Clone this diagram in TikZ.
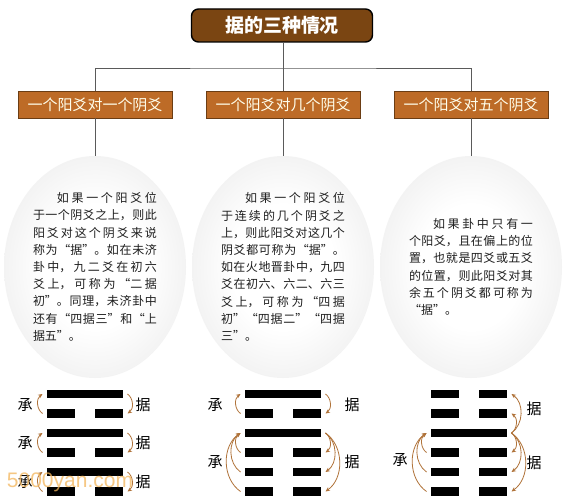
\documentclass[tikz,border=0pt]{standalone}
\usepackage{fontspec}
\newfontfamily\cjk{Noto Sans CJK SC}
\setsansfont{Liberation Sans}
\usetikzlibrary{shapes.geometric,arrows.meta}
\XeTeXlinebreaklocale "zh"
\XeTeXlinebreakskip=0pt plus 4pt minus 0.3pt
\definecolor{titlebrown}{HTML}{7A4512}
\definecolor{headbrown}{HTML}{BD6B27}
\definecolor{headedge}{HTML}{6B3D14}
\definecolor{arrowc}{HTML}{B0733A}
\definecolor{connc}{HTML}{5A5A5A}
\definecolor{wmc}{HTML}{F3B55A}
\pgfdeclareradialshading{eggshade}{\pgfpoint{0bp}{0bp}}{color(0bp)=(white); color(14bp)=(white); color(40bp)=(black!11); color(50bp)=(black!15)}
\tikzset{
 titlebox/.style={draw=black, line width=1.4pt, fill=titlebrown, rounded corners=7pt, minimum width=181pt, minimum height=33pt, text=white, font=\cjk\bfseries\fontsize{19pt}{21pt}\selectfont, inner sep=0pt},
 headbox/.style={draw=headedge, line width=0.8pt, fill=headbrown, minimum width=154pt, minimum height=27pt, inner sep=0pt, text=white!92!yellow, font=\cjk\fontsize{15pt}{17pt}\selectfont},
 egg/.style={ellipse, minimum width=182pt, minimum height=222pt, inner sep=0pt, shading=eggshade, text width=124pt, align=justify, text=black!88, font=\cjk\fontsize{12pt}{17.2pt}\selectfont},
 connline/.style={draw=connc, line width=0.9pt},
 yao/.style={fill=black},
 arr/.style={draw=arrowc, line width=0.8pt, -{Stealth[length=4.5pt,width=4pt]}},
 lbl/.style={font=\cjk\fontsize{15pt}{17pt}\selectfont, text=black, inner sep=0pt},
}
\newcommand\yaoYang[2]{\fill[yao] (#1,#2-4.25) rectangle ++(76,8.5);}
\newcommand\yaoYin[2]{\fill[yao] (#1,#2-4.25) rectangle ++(28,8.5); \fill[yao] (#1+48,#2-4.25) rectangle ++(28,8.5);}
\begin{document}
\begin{tikzpicture}[x=1pt,y=-1pt]
\useasboundingbox[fill=white] (0,0) rectangle (566,503);
% title and headers
\node[titlebox] (title) at (282,25.5) {据的三种情况};
\node[headbox] (hd1) at (95,104.5) {一个阳爻对一个阴爻};
\node[headbox] (hd2) at (283,104.5) {一个阳爻对几个阴爻};
\node[headbox] (hd3) at (471,104.5) {一个阳爻对五个阴爻};
\coordinate (bus) at (283,68);
% ellipses
\node[egg] (e1) at (95,267) {\hspace*{2em}如果一个阳爻位\linebreak 于一个阴爻之上，则此\linebreak 阳爻对这个阴爻来说\linebreak 称为“据”。如在未济\linebreak 卦中，九二爻在初六\linebreak 爻上，可称为“二据\linebreak 初”。同理，未济卦中\linebreak 还有“四据三”和“上\linebreak 据五”。};
\node[egg] (e2) at (283,267) {\hspace*{2em}如果一个阳爻位\linebreak 于连续的几个阴爻之\linebreak 上，则此阳爻对这几个\linebreak 阴爻都可称为“据”。\linebreak 如在火地晋卦中，九四\linebreak 爻在初六、六二、六三\linebreak 爻上，可称为“四据\linebreak 初”“四据二”“四据\linebreak 三”。};
\node[egg] (e3) at (471,267) {\hspace*{2em}如果卦中只有一\linebreak 个阳爻，且在偏上的位\linebreak 置，也就是四爻或五爻\linebreak 的位置，则此阳爻对其\linebreak 余五个阴爻都可称为\linebreak “据”。};
% connectors
\draw[connline] (title.south -| bus) -- (hd2.north);
\draw[connline] (hd1.north) |- (bus) -| (hd3.north);
\draw[connline] (hd1.south) -- (e1.north);
\draw[connline] (hd2.south) -- (e2.north);
\draw[connline] (hd3.south) -- (e3.north);
% line-end coordinates
\foreach \h/\x in {1/47,2/245,3/431}{
  \foreach \i in {1,...,6}{
    \coordinate (h\h L\i) at (\x-4.5,394+19.5*\i-19.5);
    \coordinate (h\h R\i) at (\x+80.5,394+19.5*\i-19.5);
  }
}
% hexagram 1
\yaoYang{47}{394}\yaoYin{47}{413.5}\yaoYang{47}{433}\yaoYin{47}{452.5}\yaoYang{47}{472}\yaoYin{47}{491.5}
% hexagram 2
\yaoYang{245}{394}\yaoYin{245}{413.5}\yaoYang{245}{433}\yaoYin{245}{452.5}\yaoYin{245}{472}\yaoYin{245}{491.5}
% hexagram 3
\yaoYin{431}{394}\yaoYin{431}{413.5}\yaoYang{431}{433}\yaoYin{431}{452.5}\yaoYin{431}{472}\yaoYin{431}{491.5}
% arrows hexagram 1
\draw[arr] (h1L2) to[bend left=55] (h1L1);
\draw[arr] (h1R1) to[bend left=55] (h1R2);
\draw[arr] (h1L4) to[bend left=55] (h1L3);
\draw[arr] (h1R3) to[bend left=55] (h1R4);
\draw[arr] (h1L6) to[bend left=55] (h1L5);
\draw[arr] (h1R5) to[bend left=55] (h1R6);
% arrows hexagram 2
\draw[arr] (h2L2) to[bend left=55] (h2L1);
\draw[arr] (h2R1) to[bend left=55] (h2R2);
\foreach \i in {4,5,6}{
  \draw[arr] (h2L\i) to[bend left=55] (h2L3);
  \draw[arr] (h2R3) to[bend left=55] (h2R\i);
}
% arrows hexagram 3
\foreach \i in {4,5,6}{
  \draw[arr] (h3L\i) to[bend left=55] (h3L3);
  \draw[arr] (h3R3) to[bend left=55] (h3R\i);
}
\draw[arr] (h3R3) to[bend right=55] (h3R2);
\draw[arr] (h3R3) to[bend right=55] (h3R1);
% labels
\node[lbl] (c11) at (25,405) {承};
\node[lbl] (j11) at (143,405) {据};
\node[lbl] (c12) at (25,443) {承};
\node[lbl] (j12) at (143,443) {据};
\node[lbl] (c13) at (25,482) {承};
\node[lbl] (j13) at (143,482) {据};
\node[lbl] (c21) at (215,405) {承};
\node[lbl] (j21) at (352,405) {据};
\node[lbl] (c22) at (215,462) {承};
\node[lbl] (j22) at (352,462) {据};
\node[lbl] (j31) at (534,409) {据};
\node[lbl] (j32) at (534,463) {据};
\node[lbl] (c31) at (400,460) {承};
% watermark
\node[font=\sffamily\fontsize{21pt}{21pt}\selectfont, text=wmc, opacity=0.75] (wmark) at (70,482) {5000yan.com};
\end{tikzpicture}
\end{document}
